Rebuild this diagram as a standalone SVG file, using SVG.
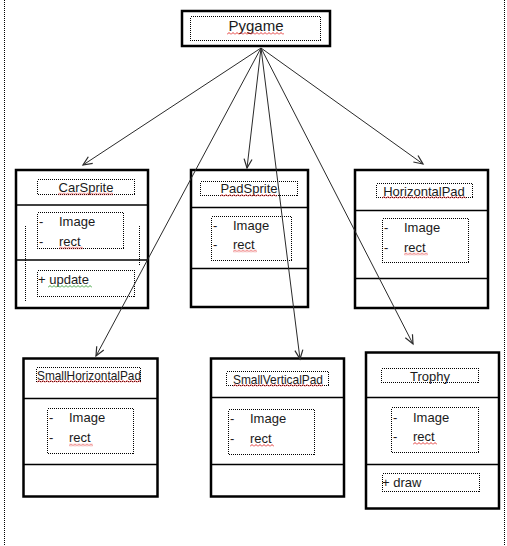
<svg xmlns="http://www.w3.org/2000/svg" width="507" height="546" viewBox="0 0 507 546">
  <defs>
    <style>
      .frame { fill: #fff; stroke: #000; stroke-width: 2.5; }
      .div { stroke: #000; stroke-width: 1.5; }
      .dot { fill: none; stroke: #000; stroke-width: 1; stroke-dasharray: 1 1; shape-rendering: crispEdges; }
      .title { font-family: "Liberation Sans", Arial, sans-serif; font-size: 13px; fill: #1a1a1a; text-anchor: middle; }
      .txt { font-family: "Liberation Sans", Arial, sans-serif; font-size: 13px; fill: #1a1a1a; }
      .conn { stroke: #2a2a2a; stroke-width: 1; fill: none; marker-end: url(#open); }
      .spell { fill: url(#redwave); }
      .gram { fill: url(#greenwave); }
    </style>
    <marker id="open" viewBox="-10 -6 12 12" markerWidth="12" markerHeight="12" markerUnits="userSpaceOnUse" refX="0" refY="0" orient="auto">
      <path d="M-9,-4 L0,0 L-9,4" fill="none" stroke="#2a2a2a" stroke-width="1.2"/>
    </marker>
    <pattern id="redwave" width="4" height="3" patternUnits="userSpaceOnUse">
      <path d="M0,2.5 L2,0.5 L4,2.5" fill="none" stroke="#e02020" stroke-width="0.9"/>
    </pattern>
    <pattern id="greenwave" width="4" height="3" patternUnits="userSpaceOnUse">
      <path d="M0,2.5 L2,0.5 L4,2.5" fill="none" stroke="#2a9a2a" stroke-width="0.9"/>
    </pattern>
  </defs>

  <rect width="507" height="546" fill="#fff"/>

  <!-- page margins -->
  <line class="dot" x1="4.5" y1="0" x2="4.5" y2="546"/>
  <line class="dot" x1="504.5" y1="0" x2="504.5" y2="546"/>

  <!-- Pygame -->
  <g id="pygame">
    <rect class="frame" x="182" y="11" width="148" height="35"/>
    <rect class="dot" x="190.5" y="16.5" width="130" height="24"/>
    <text class="title" x="256" y="31" style="font-size:15px">Pygame</text>
    <g transform="translate(227,32)"><rect class="spell" width="57" height="3"/></g>
  </g>

  <!-- CarSprite -->
  <g id="carsprite">
    <rect class="frame" x="16" y="170" width="132" height="138"/>
    <line class="div" x1="16" y1="205" x2="148" y2="205"/>
    <line class="div" x1="16" y1="260" x2="148" y2="260"/>
    <rect class="dot" x="37.5" y="179.5" width="97" height="15"/>
    <text class="title" x="86" y="191.5">CarSprite</text>
    <g transform="translate(58,192.5)"><rect class="spell" width="55" height="3"/></g>
    <rect class="dot" x="37.5" y="212.5" width="86" height="36"/>
    <line class="dot" x1="25.5" y1="226" x2="25.5" y2="302"/>
    <line class="dot" x1="139.5" y1="226" x2="139.5" y2="265"/>
    <text class="txt" x="39" y="226">-</text>
    <text class="txt" x="59" y="226">Image</text>
    <text class="txt" x="39" y="245.5">-</text>
    <text class="txt" x="59" y="245.5">rect</text>
    <g transform="translate(59,246.5)"><rect class="spell" width="24" height="3"/></g>
    <rect class="dot" x="37.5" y="270.5" width="97" height="26"/>
    <text class="txt" x="38" y="283.5">+ update</text>
    <g transform="translate(48,285)"><rect class="gram" width="44" height="3"/></g>
  </g>

  <!-- PadSprite -->
  <g id="padsprite">
    <rect class="frame" x="191" y="170" width="117" height="137"/>
    <line class="div" x1="191" y1="207.5" x2="308" y2="207.5"/>
    <line class="div" x1="191" y1="268.5" x2="308" y2="268.5"/>
    <rect class="dot" x="200.5" y="181.5" width="97" height="14"/>
    <text class="title" x="249" y="193">PadSprite</text>
    <g transform="translate(220,194)"><rect class="spell" width="57" height="3"/></g>
    <rect class="dot" x="211.5" y="216.5" width="80" height="44"/>
    <text class="txt" x="213" y="230">-</text>
    <text class="txt" x="233" y="230">Image</text>
    <text class="txt" x="213" y="249">-</text>
    <text class="txt" x="233" y="249">rect</text>
    <g transform="translate(233,249.5)"><rect class="spell" width="24" height="3"/></g>
  </g>

  <!-- HorizontalPad -->
  <g id="horizontalpad">
    <rect class="frame" x="355" y="170" width="133" height="138"/>
    <line class="div" x1="355" y1="210.5" x2="488" y2="210.5"/>
    <line class="div" x1="355" y1="278.5" x2="488" y2="278.5"/>
    <rect class="dot" x="376.5" y="183.5" width="96" height="14"/>
    <text class="title" x="424" y="195.5">HorizontalPad</text>
    <g transform="translate(382,196)"><rect class="spell" width="84" height="3"/></g>
    <rect class="dot" x="382.5" y="218.5" width="86" height="44"/>
    <text class="txt" x="384" y="231.5">-</text>
    <text class="txt" x="404" y="231.5">Image</text>
    <text class="txt" x="384" y="251.5">-</text>
    <text class="txt" x="404" y="251.5">rect</text>
    <g transform="translate(404,252.5)"><rect class="spell" width="24" height="3"/></g>
  </g>

  <!-- SmallHorizontalPad -->
  <g id="smallhorizontalpad">
    <rect class="frame" x="23.5" y="358.5" width="134" height="138"/>
    <line class="div" x1="23.5" y1="398.5" x2="157.5" y2="398.5"/>
    <line class="div" x1="23.5" y1="464.5" x2="157.5" y2="464.5"/>
    <rect class="dot" x="36.5" y="367.5" width="104" height="14"/>
    <text class="title" x="89" y="379.5" textLength="104" lengthAdjust="spacingAndGlyphs">SmallHorizontalPad</text>
    <g transform="translate(37,380)"><rect class="spell" width="104" height="3"/></g>
    <rect class="dot" x="47.5" y="408.5" width="86" height="45"/>
    <text class="txt" x="49" y="421.5">-</text>
    <text class="txt" x="69" y="421.5">Image</text>
    <text class="txt" x="49" y="442">-</text>
    <text class="txt" x="69" y="442">rect</text>
    <g transform="translate(69,443.5)"><rect class="spell" width="24" height="3"/></g>
  </g>

  <!-- SmallVerticalPad -->
  <g id="smallverticalpad">
    <rect class="frame" x="211" y="358.5" width="133" height="138"/>
    <line class="div" x1="211" y1="397.5" x2="344" y2="397.5"/>
    <line class="div" x1="211" y1="464.5" x2="344" y2="464.5"/>
    <rect class="dot" x="226.5" y="371.5" width="102" height="14"/>
    <text class="title" x="278" y="383.5" textLength="90" lengthAdjust="spacingAndGlyphs">SmallVerticalPad</text>
    <g transform="translate(233,384)"><rect class="spell" width="90" height="3"/></g>
    <rect class="dot" x="228.5" y="409.5" width="86" height="45"/>
    <text class="txt" x="230" y="422.5">-</text>
    <text class="txt" x="250" y="422.5">Image</text>
    <text class="txt" x="230" y="442.5">-</text>
    <text class="txt" x="250" y="442.5">rect</text>
    <g transform="translate(250,444)"><rect class="spell" width="24" height="3"/></g>
  </g>

  <!-- Trophy -->
  <g id="trophy">
    <rect class="frame" x="366" y="352.5" width="133" height="156"/>
    <line class="div" x1="366" y1="397.5" x2="499" y2="397.5"/>
    <line class="div" x1="366" y1="464.5" x2="499" y2="464.5"/>
    <rect class="dot" x="381.5" y="368.5" width="97" height="14"/>
    <text class="title" x="430" y="380.5">Trophy</text>
    <rect class="dot" x="391.5" y="407.5" width="87" height="45"/>
    <text class="txt" x="393" y="421.5">-</text>
    <text class="txt" x="413" y="421.5">Image</text>
    <text class="txt" x="393" y="440.5">-</text>
    <text class="txt" x="413" y="440.5">rect</text>
    <g transform="translate(413,442)"><rect class="spell" width="24" height="3"/></g>
    <rect class="dot" x="382.5" y="473.5" width="97" height="18"/>
    <text class="txt" x="382" y="486.5">+ draw</text>
  </g>

  <!-- connectors from Pygame -->
  <g id="connectors">
    <line class="conn" x1="261" y1="48" x2="83" y2="165"/>
    <line class="conn" x1="261" y1="48" x2="247" y2="168"/>
    <line class="conn" x1="261" y1="48" x2="423" y2="164"/>
    <line class="conn" x1="261" y1="48" x2="96" y2="356"/>
    <line class="conn" x1="261" y1="48" x2="300" y2="359"/>
    <line class="conn" x1="261" y1="48" x2="413" y2="344"/>
  </g>
</svg>
